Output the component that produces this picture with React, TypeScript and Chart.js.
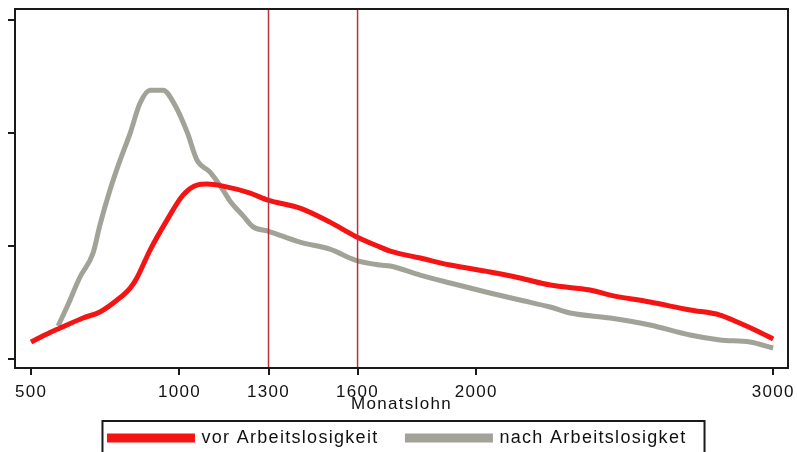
import React, { useEffect, useRef } from "react";
import { Chart, registerables } from "chart.js";

Chart.register(...registerables);

// Monatslohn (x) and density (y, relative units) – vor Arbeitslosigkeit
const vorLohn = [500, 564, 598, 675, 732, 790, 834, 857, 901, 958, 1012, 1059, 1093, 1147, 1238, 1298, 1406, 1507, 1592, 1676, 1710, 1811, 1912, 2046, 2147, 2249, 2383, 2451, 2585, 2720, 2821, 2879, 2946, 3000];
const vorDichte = [0.15, 0.235, 0.274, 0.363, 0.416, 0.522, 0.628, 0.72, 0.965, 1.23, 1.451, 1.54, 1.549, 1.531, 1.469, 1.407, 1.336, 1.212, 1.088, 0.991, 0.955, 0.894, 0.832, 0.77, 0.717, 0.655, 0.611, 0.566, 0.504, 0.434, 0.389, 0.327, 0.248, 0.177];

// nach Arbeitslosigkeit
const nachLohn = [591, 621, 665, 709, 732, 766, 800, 834, 867, 901, 945, 985, 1026, 1059, 1103, 1147, 1170, 1214, 1248, 1298, 1406, 1507, 1592, 1676, 1710, 1811, 1912, 2046, 2147, 2249, 2316, 2451, 2585, 2720, 2821, 2922, 3000];
const nachDichte = [0.292, 0.46, 0.726, 0.938, 1.186, 1.496, 1.761, 2.0, 2.265, 2.381, 2.381, 2.248, 2.009, 1.761, 1.655, 1.496, 1.4, 1.27, 1.17, 1.133, 1.035, 0.973, 0.876, 0.832, 0.823, 0.743, 0.673, 0.584, 0.522, 0.46, 0.407, 0.363, 0.301, 0.212, 0.168, 0.15, 0.097];

const xTicks = [500, 1000, 1300, 1600, 2000, 3000];
const yTicks = [0, 1, 2, 3];
const cutoffs = [1300, 1600];
const seriesLabels = ["vor Arbeitslosigkeit", "nach Arbeitslosigket"];

const X_MIN = 446;
const X_MAX = 3050;
const Y_MIN = -0.08;
const Y_MAX = 3.1;

const RED = "#f51414";
const GRAY = "#a3a298";
const CUT = "#b8323c";
const LS = "1.3px";
const FS = 17;
const LEGEND_FS = 18;

export default function App() {
  const ref = useRef<HTMLCanvasElement | null>(null);

  useEffect(() => {
    document.body.style.margin = "0";
    const canvas = ref.current;
    if (!canvas) return;

    Chart.defaults.font.family = "'Liberation Sans', Arial, sans-serif";
    Chart.defaults.color = "#111";

    const letterSpacing = {
      id: "letterSpacing",
      beforeLayout(chart: any) {
        (chart.ctx as any).letterSpacing = LS;
      },
      beforeDraw(chart: any) {
        (chart.ctx as any).letterSpacing = LS;
      },
    };

    const frame = {
      id: "frame",
      afterDatasetsDraw(chart: any) {
        const { ctx, chartArea } = chart;
        const xs = chart.scales.x;
        ctx.save();
        ctx.strokeStyle = CUT;
        ctx.lineWidth = 1.5;
        cutoffs.forEach((c) => {
          const px = xs.getPixelForValue(c);
          ctx.beginPath();
          ctx.moveTo(px, chartArea.top);
          ctx.lineTo(px, chartArea.bottom);
          ctx.stroke();
        });
        ctx.strokeStyle = "#1a1a1a";
        ctx.lineWidth = 2;
        ctx.strokeRect(chartArea.left, chartArea.top, chartArea.right - chartArea.left, chartArea.bottom - chartArea.top);
        ctx.restore();
      },
      afterDraw(chart: any) {
        const lg = chart.legend;
        if (!lg || !lg.legendHitBoxes || !lg.legendHitBoxes.length) return;
        const hb = lg.legendHitBoxes;
        const left = hb[0].left - 7;
        const right = hb[hb.length - 1].left + hb[hb.length - 1].width + 18;
        const top = hb[0].top - 8;
        const ctx = chart.ctx;
        ctx.save();
        ctx.strokeStyle = "#1a1a1a";
        ctx.lineWidth = 2;
        ctx.strokeRect(left, top, right - left, 60);
        ctx.restore();
      },
    };

    const chart = new Chart(canvas, {
      type: "line",
      data: {
        datasets: [
          {
            label: seriesLabels[0] + "   ",
            data: vorLohn.map((x, i) => ({ x, y: vorDichte[i] })),
            borderColor: RED,
            backgroundColor: RED,
            borderWidth: 5,
            pointRadius: 0,
            cubicInterpolationMode: "monotone",
          },
          {
            label: seriesLabels[1],
            data: nachLohn.map((x, i) => ({ x, y: nachDichte[i] })),
            borderColor: GRAY,
            backgroundColor: GRAY,
            borderWidth: 5,
            pointRadius: 0,
            cubicInterpolationMode: "monotone",
          },
        ],
      },
      options: {
        animation: false,
        responsive: false,
        layout: { padding: { left: 8, right: 9, top: 9, bottom: -5 } },
        plugins: {
          tooltip: { enabled: false },
          legend: {
            position: "bottom",
            labels: {
              boxWidth: 83,
              boxHeight: 4,
              padding: 10,
              color: "#111",
              font: { size: LEGEND_FS },
            },
          },
        },
        scales: {
          x: {
            type: "linear",
            min: X_MIN,
            max: X_MAX,
            afterBuildTicks(scale: any) {
              scale.ticks = xTicks.map((v) => ({ value: v }));
            },
            afterFit(scale: any) {
              scale.paddingRight = 0;
            },
            ticks: {
              autoSkip: false,
              maxRotation: 0,
              padding: 9,
              color: "#111",
              font: { size: FS, lineHeight: 1 },
              callback: (v: any) => String(v),
            },
            grid: { drawOnChartArea: false, drawTicks: true, tickLength: 7, color: "#1a1a1a", lineWidth: 2 },
            border: { display: false },
            title: {
              display: true,
              text: "Monatslohn",
              color: "#111",
              font: { size: FS, lineHeight: 1 },
              padding: { top: -14, bottom: 6 },
            },
          },
          y: {
            type: "linear",
            min: Y_MIN,
            max: Y_MAX,
            afterBuildTicks(scale: any) {
              scale.ticks = yTicks.map((v) => ({ value: v }));
            },
            ticks: { display: false },
            grid: { drawOnChartArea: false, drawTicks: true, tickLength: 7, color: "#1a1a1a", lineWidth: 2 },
            border: { display: false },
          },
        },
      },
      plugins: [letterSpacing, frame],
    });

    return () => chart.destroy();
  }, []);

  return (
    <div style={{ width: 797, height: 452, background: "#fff" }}>
      <canvas ref={ref} width={797} height={452} style={{ display: "block" }} />
    </div>
  );
}
